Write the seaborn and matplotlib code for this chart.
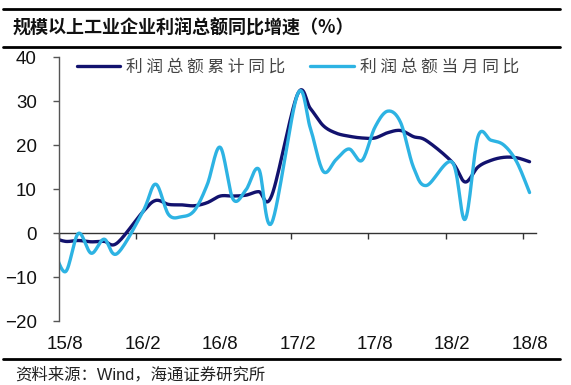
import numpy as np
import seaborn as sns
import matplotlib.pyplot as plt

# 月份（15/7 在坐标轴左侧，被裁掉，只用于曲线起点）
months = ["15/7", "15/8", "15/9", "15/10", "15/11", "15/12",
          "16/1", "16/2", "16/3", "16/4", "16/5", "16/6", "16/7",
          "16/8", "16/9", "16/10", "16/11", "16/12",
          "17/1", "17/2", "17/3", "17/4", "17/5", "17/6", "17/7",
          "17/8", "17/9", "17/10", "17/11", "17/12",
          "18/1", "18/2", "18/3", "18/4", "18/5", "18/6", "18/7", "18/8"]

# 利润总额累计同比（%），1月无数据
cum_yoy = [-1.0, -1.9, -1.7, -2.0, -1.9, -2.3,
           None, 4.8, 7.4, 6.5, 6.4, 6.2, 6.9,
           8.4, 8.4, 8.6, 9.4, 8.5,
           None, 31.5, 28.3, 24.4, 22.7, 22.0, 21.6,
           21.6, 22.8, 23.3, 21.9, 21.0,
           None, 16.1, 11.6, 15.0, 16.5, 17.2, 17.1, 16.2]

# 利润总额当月同比（%）
month_yoy = [-2.9, -8.8, -0.1, -4.6, -1.4, -4.7,
             None, 4.8, 11.1, 4.2, 3.7, 5.1, 11.0,
             19.5, 7.7, 9.8, 14.5, 2.3,
             None, 31.5, 23.8, 14.0, 16.7, 19.1, 16.5,
             24.0, 27.7, 25.1, 14.9, 10.8,
             None, 16.1, 3.1, 21.9, 21.1, 20.0, 16.2, 9.2]

label_every = 6
y_ticks = [-20, -10, 0, 10, 20, 30, 40]

DARK = "#12126e"
LIGHT = "#2db3e3"
CJK = ["Noto Sans CJK SC", "DejaVu Sans"]


# 类似 Excel 平滑线：Catmull-Rom 样条（贝塞尔形式），跳过缺失值
def smooth(xs, ys, n=16):
    pts = np.array([(x, y) for x, y in zip(xs, ys) if y is not None], float)
    out = []
    for i in range(len(pts) - 1):
        p0 = pts[max(i - 1, 0)]
        p1 = pts[i]
        p2 = pts[i + 1]
        p3 = pts[min(i + 2, len(pts) - 1)]
        c1 = p1 + (p2 - p0) / 6
        c2 = p2 - (p3 - p1) / 6
        t = np.linspace(0, 1, n, endpoint=(i == len(pts) - 2))[:, None]
        seg = ((1 - t) ** 3 * p1 + 3 * (1 - t) ** 2 * t * c1
               + 3 * (1 - t) * t ** 2 * c2 + t ** 3 * p2)
        out.append(seg)
    out = np.vstack(out)
    return out[:, 0], out[:, 1]


sns.set_style("white")
plt.rcParams["font.family"] = ["Liberation Sans", "Noto Sans CJK SC", "DejaVu Sans"]

fig = plt.figure(figsize=(5.71, 3.85), dpi=100)
ax = fig.add_axes([0.1033, 0.1662, 0.8354, 0.6857])

x = np.arange(len(months))
sx, sy = smooth(x, cum_yoy)
sns.lineplot(x=sx, y=sy, sort=False, estimator=None, color=DARK, lw=2.4,
             label=" ".join("利润总额累计同比"), ax=ax)
sx, sy = smooth(x, month_yoy)
sns.lineplot(x=sx, y=sy, sort=False, estimator=None, color=LIGHT, lw=2.4,
             label=" ".join("利润总额当月同比"), ax=ax)

ax.set_xlim(0.5, len(months) - 0.5)
ax.set_ylim(-20, 40)

# 坐标轴样式
for s in ["top", "right", "bottom"]:
    ax.spines[s].set_visible(False)
ax.spines["left"].set_color("#555555")
ax.spines["left"].set_linewidth(1.0)

ax.set_yticks(y_ticks)
ax.tick_params(axis="y", direction="out", length=4, width=1, color="#555555",
               pad=12, labelsize=13.5, labelcolor="#111111", left=True)

# x 轴标签在图底部
lab_pos = x[1::label_every]
ax.set_xticks(lab_pos, [months[i] for i in lab_pos])
ax.tick_params(axis="x", length=0, pad=11, labelsize=13.5, labelcolor="#111111")

# 零线上的刻度轴
zero = ax.secondary_xaxis(20 / 60)
zero.set_xticks(np.arange(0.5, len(months), label_every), labels=[])
zero.tick_params(direction="out", length=4, width=1, color="#333333")
zero.spines["bottom"].set_color("#333333")
zero.spines["bottom"].set_linewidth(1.0)

ax.grid(False)
ax.set_xlabel("")
ax.set_ylabel("")

leg = ax.legend(loc="center left", bbox_to_anchor=(77 / 571, 1 - 67 / 385),
                bbox_transform=fig.transFigure, ncol=2, frameon=False,
                borderpad=0, borderaxespad=0, handlelength=2.6,
                handletextpad=0.35, columnspacing=1.5,
                prop={"family": ["Noto Sans CJK SC"], "size": 12})
for t in leg.get_texts():
    t.set_color("#444444")

# 标题与上下横线
fig.add_artist(plt.Line2D([0.005, 0.98], [0.9766, 0.9766], color="black", lw=2))
fig.add_artist(plt.Line2D([0.005, 0.98], [0.878, 0.878], color="black", lw=2))
fig.add_artist(plt.Line2D([0.005, 0.98], [0.0675, 0.0675], color="black", lw=2))
fig.text(0.022, 0.927, "规模以上工业企业利润总额同比增速（%）", family=CJK,
         fontsize=13, fontweight="bold", va="center", ha="left", color="#111111")
fig.text(0.026, 0.026, "资料来源：Wind，海通证券研究所",
         family=["Liberation Sans", "Noto Sans CJK SC"], fontsize=11.8,
         va="center", ha="left", color="#222222")

plt.savefig("out.png", dpi=100)
